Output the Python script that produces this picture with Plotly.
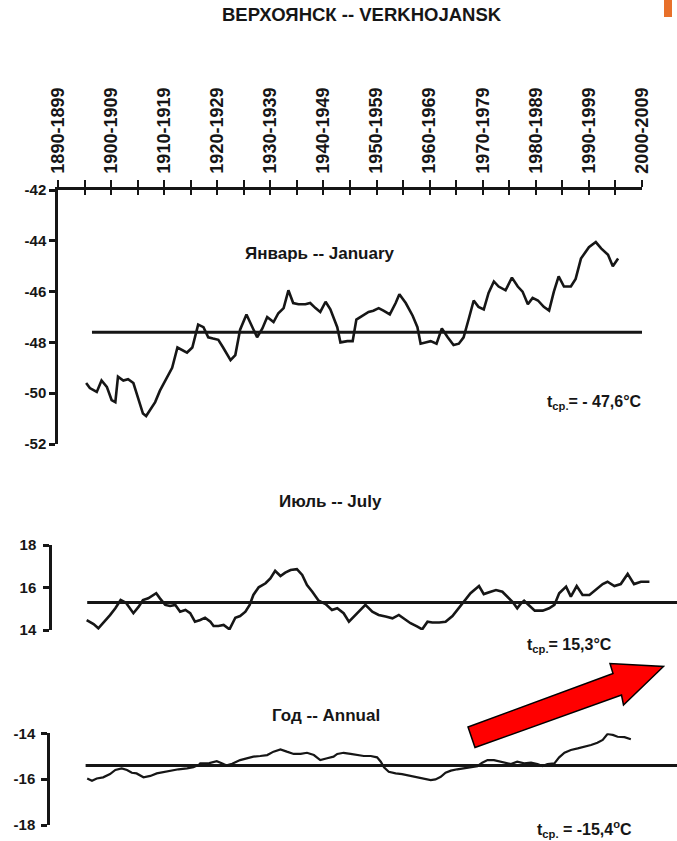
import plotly.graph_objects as go

# ---------------- data ----------------
decade_labels = ["1890-1899", "1900-1909", "1910-1919", "1920-1929", "1930-1939", "1940-1949",
                 "1950-1959", "1960-1969", "1970-1979", "1980-1989", "1990-1999", "2000-2009"]
decade_years = list(range(1890, 2001, 10))
half_decade_years = list(range(1895, 2000, 10))

jan_years = [1895.3, 1896.0, 1897.3, 1898.2, 1899.2, 1900.1, 1900.8, 1901.3, 1902.3, 1903.2, 1904.2,
             1906.0, 1906.6, 1907.4, 1908.3, 1909.2, 1910.2, 1911.5, 1912.5, 1913.4, 1914.3,
             1915.3, 1916.4, 1917.4, 1918.3, 1919.2, 1920.2, 1921.1, 1922.5, 1923.4, 1924.3,
             1925.5, 1926.6, 1927.5, 1928.5, 1929.4, 1930.6, 1931.5, 1932.5, 1933.4, 1934.3,
             1935.3, 1936.6, 1937.5, 1938.5, 1939.4, 1940.4, 1941.3, 1942.6, 1943.2, 1944.5,
             1945.5, 1946.2, 1947.4, 1948.5, 1949.4, 1950.4, 1951.3, 1952.5, 1953.6, 1954.3,
             1955.5, 1956.8, 1957.7, 1958.3, 1959.2, 1960.2, 1961.3, 1962.3, 1963.4, 1964.5,
             1965.5, 1966.4, 1967.4, 1968.3, 1969.2, 1970.2, 1971.1, 1972.1, 1973.0, 1974.3,
             1975.5, 1976.6, 1977.5, 1978.5, 1979.4, 1980.4, 1981.5, 1982.5, 1983.4, 1984.3,
             1985.3, 1986.6, 1987.5, 1988.5, 1990.0, 1991.3, 1992.3, 1993.6, 1994.5, 1995.5]
jan_temp = [-49.6, -49.8, -49.95, -49.5, -49.75, -50.27, -50.35, -49.35, -49.5, -49.45, -49.6,
            -50.8, -50.9, -50.65, -50.35, -49.9, -49.5, -49.0, -48.2, -48.3, -48.4,
            -48.2, -47.3, -47.4, -47.8, -47.85, -47.9, -48.2, -48.7, -48.5, -47.5,
            -46.9, -47.4, -47.8, -47.45, -47.0, -47.2, -46.85, -46.65, -45.95, -46.45,
            -46.5, -46.5, -46.45, -46.65, -46.8, -46.4, -46.7, -47.4, -48.0, -47.95,
            -47.95, -47.1, -46.95, -46.8, -46.75, -46.65, -46.75, -46.9, -46.45, -46.1,
            -46.45, -46.95, -47.4, -48.05, -48.0, -47.95, -48.05, -47.45, -47.8, -48.1,
            -48.05, -47.8, -47.05, -46.35, -46.6, -46.7, -46.05, -45.6, -45.8, -45.95,
            -45.45, -45.8, -46.0, -46.5, -46.25, -46.35, -46.6, -46.75, -46.0, -45.4,
            -45.8, -45.8, -45.5, -44.7, -44.25, -44.05, -44.3, -44.55, -45.0, -44.7]
jan_mean = -47.6
jan_mean_span = [1896.4, 2000.4]

jul_years = [1895.4, 1896.7, 1897.6, 1898.5, 1899.8, 1900.8, 1901.8, 1902.8, 1904.2, 1905.2,
             1906.0, 1907.0, 1908.5, 1909.2, 1910.2, 1911.1, 1912.1, 1913.0, 1914.0, 1914.9,
             1915.8, 1916.8, 1917.7, 1918.7, 1919.3, 1920.2, 1921.2, 1922.3, 1923.4, 1924.3,
             1925.3, 1926.1, 1926.8, 1927.8, 1929.1, 1930.0, 1930.9, 1931.9, 1932.8, 1933.8,
             1935.0, 1936.0, 1936.9, 1937.9, 1939.1, 1940.4, 1941.6, 1942.6,
             1943.8, 1944.8, 1945.7, 1946.7, 1947.9, 1949.2, 1950.4, 1951.7, 1953.0, 1954.2,
             1955.2, 1956.4, 1957.7, 1958.6, 1959.6, 1960.5, 1961.8, 1963.0, 1964.3, 1965.2,
             1966.2, 1967.7, 1969.3, 1970.2, 1971.5, 1972.5, 1973.7, 1974.6, 1975.6, 1976.5,
             1977.2, 1977.8, 1978.7, 1979.8, 1981.3, 1982.5, 1983.5, 1984.4, 1985.7, 1986.6,
             1987.7, 1988.8, 1990.1, 1991.3, 1992.6, 1993.5, 1994.8, 1996.0, 1997.3, 1998.5,
             1999.8, 2001.4]
jul_temp = [14.47, 14.28, 14.08, 14.32, 14.7, 15.02, 15.41, 15.28, 14.79, 15.1,
            15.41, 15.49, 15.73, 15.49, 15.18, 15.13, 15.18, 14.86, 14.94, 14.79,
            14.39, 14.47, 14.58, 14.39, 14.19, 14.19, 14.24, 14.03, 14.58, 14.66,
            14.86, 15.18, 15.65, 16.01, 16.2, 16.43, 16.79, 16.54, 16.7, 16.82,
            16.86, 16.59, 16.12, 15.8, 15.38, 15.22, 14.94, 15.02,
            14.79, 14.39, 14.63, 14.86, 15.18, 14.86, 14.71, 14.63, 14.55, 14.71,
            14.55, 14.32, 14.16, 14.03, 14.39, 14.35, 14.35, 14.39, 14.66, 14.94,
            15.28, 15.73, 16.07, 15.69, 15.8, 15.88, 15.8, 15.57, 15.33, 15.02,
            15.25, 15.38, 15.18, 14.91, 14.91, 15.02, 15.18, 15.73, 16.04, 15.57,
            16.07, 15.65, 15.65, 15.88, 16.16, 16.27, 16.07, 16.16, 16.64, 16.16,
            16.27, 16.27]
jul_mean = 15.3
jul_mean_span = [1895.5, 2007.5]

ann_years = [1895.5, 1896.4, 1897.3, 1898.5, 1899.8, 1900.8, 1902.0, 1903.0, 1903.9, 1904.8,
             1906.1, 1907.4, 1908.6, 1909.9, 1911.1, 1912.7, 1914.3, 1915.5, 1916.5, 1916.8,
             1918.5, 1919.9, 1921.8, 1922.8, 1924.3, 1925.6, 1926.8, 1928.1, 1929.4, 1930.6,
             1931.9, 1933.1, 1934.4, 1935.7, 1936.9, 1938.2, 1939.4, 1940.7, 1941.9, 1942.6,
             1943.8, 1945.1, 1946.4, 1947.6, 1948.9, 1950.1, 1950.8, 1951.4, 1952.3, 1953.6,
             1954.8, 1956.4, 1958.0, 1959.2, 1960.2, 1961.1, 1962.1, 1963.0, 1964.0, 1965.2,
             1966.5, 1967.7, 1969.0, 1969.9, 1970.9, 1972.1, 1973.4, 1975.3, 1976.5, 1977.8,
             1979.1, 1980.3, 1981.3, 1982.2, 1983.5, 1984.4, 1985.4, 1986.6, 1987.9, 1989.1,
             1990.4, 1991.6, 1992.6, 1993.5, 1994.5, 1995.4, 1996.7, 1997.9]
ann_temp = [-15.97, -16.07, -15.97, -15.92, -15.78, -15.6, -15.53, -15.6, -15.72, -15.75,
            -15.92, -15.86, -15.75, -15.69, -15.63, -15.57, -15.53, -15.48, -15.38, -15.31,
            -15.3, -15.22, -15.4, -15.33, -15.17, -15.09, -15.02, -14.99, -14.95, -14.8,
            -14.7, -14.8, -14.9, -14.9, -14.85, -14.95, -15.17, -15.09, -15.02, -14.9,
            -14.85, -14.9, -14.95, -14.99, -14.99, -15.05, -15.24, -15.48, -15.68, -15.75,
            -15.78, -15.86, -15.92, -16.01, -16.04, -16.01, -15.9, -15.72, -15.63, -15.57,
            -15.53, -15.48, -15.43, -15.28, -15.17, -15.17, -15.24, -15.34, -15.24, -15.31,
            -15.28, -15.34, -15.43, -15.34, -15.31, -15.05, -14.85, -14.73, -14.66, -14.59,
            -14.51, -14.41, -14.29, -14.03, -14.07, -14.15, -14.17, -14.26]
ann_mean = -15.4
ann_mean_span = [1895.2, 2007.5]

jan_ticks = [-42, -44, -46, -48, -50, -52]
jan_ticktext = ["-42", "-44", "-46", "-48", "-50", "-52"]
jul_ticks = [14, 16, 18]
jul_ticktext = ["14", "16", "18"]
ann_ticks = [-14, -16, -18]
ann_ticktext = ["-14", "-16", "-18"]

title_text = "ВЕРХОЯНСК -- VERKHOJANSK"
panel_titles = ["Январь -- January", "Июль -- July", "Год -- Annual"]
mean_labels = ["t<sub>ср.</sub>= - 47,6°C", "t<sub>ср.</sub>= 15,3°C", "t<sub>ср.</sub> = -15,4<sup>o</sup>C"]

# ---------------- geometry / style ----------------
W, H = 677, 841
FONT = "Liberation Sans, Arial, Helvetica, sans-serif"
INK = "#161616"
PX_ORIGIN = 58.0
PX_END = 642.0
PX_PER_YEAR = (PX_END - PX_ORIGIN) / 110.0


def fx(p):
    return p / W


def fy(p):
    return 1 - p / H


def yr_range(a_px, b_px):
    return [1890 + (a_px - PX_ORIGIN) / PX_PER_YEAR, 1890 + (b_px - PX_ORIGIN) / PX_PER_YEAR]


def bold(lst):
    return ["<b>" + s + "</b>" for s in lst]


all_tick_years = sorted(decade_years + half_decade_years)

fig = go.Figure()

line_style = dict(color=INK, width=2.6)
mean_style = dict(color=INK, width=3)

# January
fig.add_trace(go.Scatter(x=jan_years, y=jan_temp, mode="lines", line=line_style,
                         xaxis="x", yaxis="y", showlegend=False, hoverinfo="skip"))
fig.add_trace(go.Scatter(x=jan_mean_span, y=[jan_mean, jan_mean], mode="lines", line=mean_style,
                         xaxis="x", yaxis="y", showlegend=False, hoverinfo="skip"))
fig.add_trace(go.Scatter(x=[], y=[], xaxis="x4", yaxis="y", showlegend=False))
# July
fig.add_trace(go.Scatter(x=jul_years, y=jul_temp, mode="lines", line=line_style,
                         xaxis="x2", yaxis="y2", showlegend=False, hoverinfo="skip"))
fig.add_trace(go.Scatter(x=jul_mean_span, y=[jul_mean, jul_mean], mode="lines", line=mean_style,
                         xaxis="x2", yaxis="y2", showlegend=False, hoverinfo="skip"))
# Annual
fig.add_trace(go.Scatter(x=ann_years, y=ann_temp, mode="lines", line=dict(color=INK, width=2.2),
                         xaxis="x3", yaxis="y3", showlegend=False, hoverinfo="skip"))
fig.add_trace(go.Scatter(x=ann_mean_span, y=[ann_mean, ann_mean], mode="lines", line=mean_style,
                         xaxis="x3", yaxis="y3", showlegend=False, hoverinfo="skip"))

yax_common = dict(showgrid=False, zeroline=False, showline=True, linecolor=INK, linewidth=2.5,
                  ticks="outside", tickcolor=INK, tickwidth=2.5, ticklen=6,
                  tickfont=dict(family=FONT, size=15, color=INK),
                  tickmode="array", automargin=False, fixedrange=True)

fig.update_layout(
    template="none",
    width=W, height=H,
    margin=dict(l=0, r=0, t=0, b=0, pad=0),
    paper_bgcolor="white", plot_bgcolor="rgba(0,0,0,0)",
    font=dict(family=FONT, color=INK),
    showlegend=False,
    xaxis=dict(domain=[fx(PX_ORIGIN), fx(PX_END)], range=[1890, 2000], anchor="y", side="top",
               showgrid=False, zeroline=False, showline=True, linecolor=INK, linewidth=2.5,
               ticks="outside", ticklen=7, tickwidth=2, tickcolor=INK,
               tickmode="array", tickvals=decade_years, ticktext=bold(decade_labels), tickangle=-90,
               tickfont=dict(family=FONT, size=18, color=INK), ticklabelstandoff=3,
               minor=dict(tickmode="array", tickvals=half_decade_years, ticks="outside",
                          ticklen=7, tickwidth=2, tickcolor=INK, showgrid=False),
               automargin=False, fixedrange=True),
    xaxis4=dict(overlaying="x", anchor="y", side="top", range=[1890, 2000],
                showgrid=False, zeroline=False, showline=False,
                ticks="inside", ticklen=5, tickwidth=2, tickcolor=INK,
                tickmode="array", tickvals=all_tick_years, showticklabels=False,
                automargin=False, fixedrange=True),
    yaxis=dict(domain=[fy(444), fy(190)], range=[-52, -42], anchor="x",
               tickvals=jan_ticks, ticktext=bold(jan_ticktext), **yax_common),
    xaxis2=dict(domain=[fx(52), 1.0], range=yr_range(52, W), anchor="y2", visible=False),
    yaxis2=dict(domain=[fy(630), fy(545)], range=[14, 18], anchor="x2",
                tickvals=jul_ticks, ticktext=bold(jul_ticktext), ticklabelstandoff=4, **yax_common),
    xaxis3=dict(domain=[fx(50), 1.0], range=yr_range(50, W), anchor="y3", visible=False),
    yaxis3=dict(domain=[fy(825), fy(733.3)], range=[-18, -14], anchor="x3",
                tickvals=ann_ticks, ticktext=bold(ann_ticktext), ticklabelstandoff=3, **yax_common),
)

annotations = [
    dict(text="<b>" + title_text + "</b>", x=fx(362), y=fy(15), font=dict(size=18.5)),
    dict(text="<b>" + panel_titles[0] + "</b>", x=fx(320), y=fy(253), font=dict(size=17)),
    dict(text="<b>" + panel_titles[1] + "</b>", x=fx(330), y=fy(501), font=dict(size=17)),
    dict(text="<b>" + panel_titles[2] + "</b>", x=fx(326), y=fy(715), font=dict(size=17)),
    dict(text="<b>" + mean_labels[0] + "</b>", x=fx(644), y=fy(403), xanchor="right", font=dict(size=16)),
    dict(text="<b>" + mean_labels[1] + "</b>", x=fx(614), y=fy(645), xanchor="right", font=dict(size=16)),
    dict(text="<b>" + mean_labels[2] + "</b>", x=fx(634), y=fy(829), xanchor="right", font=dict(size=16)),
]
for a in annotations:
    a.setdefault("xanchor", "center")
    a.update(xref="paper", yref="paper", yanchor="middle", showarrow=False)
    a["font"].update(family=FONT, color=INK)
fig.update_layout(annotations=annotations)

# decorative red arrow (pixel outline converted to paper coords)
arrow_px = [(468, 727), (613, 673.5), (610, 663.5), (663.5, 666.5), (623.5, 705), (621.5, 695), (475, 747.5)]
path = "M " + " L ".join(f"{fx(px):.5f},{fy(py):.5f}" for px, py in arrow_px) + " Z"
fig.add_shape(type="path", xref="paper", yref="paper", path=path,
              fillcolor="#ff0000", line=dict(color="#000000", width=1.5), layer="above")
# small orange corner mark
fig.add_shape(type="rect", xref="paper", yref="paper", x0=fx(664), x1=fx(672), y0=fy(17), y1=fy(0),
              fillcolor="#e8702a", line=dict(width=0), layer="above")

fig.write_html("out.html")
